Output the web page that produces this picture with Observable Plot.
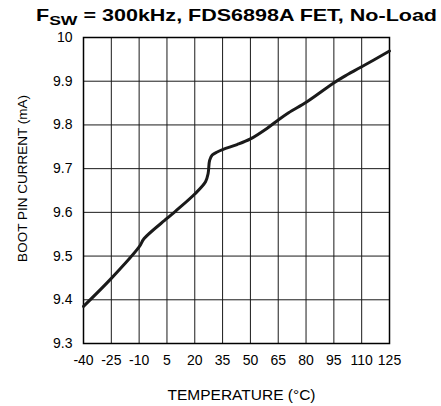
<!DOCTYPE html>
<html><head><meta charset="utf-8">
<script src="https://cdn.jsdelivr.net/npm/d3@7"></script>
<script src="https://cdn.jsdelivr.net/npm/@observablehq/plot@0.6"></script>
<style>
body{margin:0;background:#fff;font-family:"Liberation Sans",Arial,sans-serif;}
#title{display:block;}
</style></head>
<body>
<svg id="title" width="441" height="28" xmlns="http://www.w3.org/2000/svg">
  <text x="36" y="21" textLength="401" lengthAdjust="spacingAndGlyphs" font-family="Liberation Sans, Arial, sans-serif" font-weight="bold" font-size="16.5" fill="#000">F<tspan dy="4" font-size="13.5">SW</tspan><tspan dy="-4"> = 300kHz, FDS6898A FET, No-Load</tspan></text>
</svg>
<div id="chart"></div>
<script>
const temperature = [-40, -25, -10, -7.3, 5, 9.7, 20, 25.8, 27.2, 28, 29.4, 32.1, 35.3, 42.8, 50, 58.9, 65.2, 70.6, 80.5, 94.9, 100.2, 110, 125];
const current = [9.385, 9.449, 9.521, 9.540, 9.586, 9.603, 9.642, 9.670, 9.689, 9.719, 9.731, 9.738, 9.744, 9.755, 9.768, 9.792, 9.812, 9.828, 9.853, 9.896, 9.910, 9.933, 9.969];
const xTicks = [-40, -25, -10, 5, 20, 35, 50, 65, 80, 95, 110, 125];
const yTicks = [9.3, 9.4, 9.5, 9.6, 9.7, 9.8, 9.9, 10];
const xLabel = "TEMPERATURE (°C)";
const yLabel = "BOOT PIN CURRENT (mA)";

const data = temperature.map((t, i) => ({t, c: current[i]}));

const chart = Plot.plot({
  width: 441,
  height: 378,
  marginTop: 9,
  marginBottom: 63,
  marginLeft: 83,
  marginRight: 52,
  style: {fontFamily: '"Liberation Sans", Arial, sans-serif', fontSize: "14px", color: "#000", background: "#fff"},
  x: {domain: [-40, 125]},
  y: {domain: [9.3, 10]},
  marks: [
    Plot.ruleX(xTicks, {stroke: "#1a1a1a", strokeWidth: 1}),
    Plot.ruleY(yTicks, {stroke: "#1a1a1a", strokeWidth: 1}),
    Plot.axisX(xTicks, {tickSize: 0, tickPadding: 12, fontSize: 14, tickFormat: d => String(d), label: null}),
    Plot.axisY(yTicks, {tickSize: 0, tickPadding: 11, fontSize: 14, tickFormat: d => d === 10 ? "10" : d.toFixed(1), label: null}),
    Plot.text([xLabel], {text: d => d, frameAnchor: "bottom", lineAnchor: "middle", dy: 52, dx: 5, fontSize: 15.5, fill: "#000"}),
    Plot.text([yLabel], {text: d => d, frameAnchor: "left", textAnchor: "middle", lineAnchor: "middle", rotate: -90, dx: -61, dy: -12, fontSize: 13.5, fill: "#000"}),
    Plot.frame({stroke: "#000", strokeWidth: 1.5}),
    Plot.line(data, {x: "t", y: "c", stroke: "#1a1a1a", strokeWidth: 3, curve: "catmull-rom"})
  ]
});
document.getElementById("chart").appendChild(chart);
</script>
</body></html>
